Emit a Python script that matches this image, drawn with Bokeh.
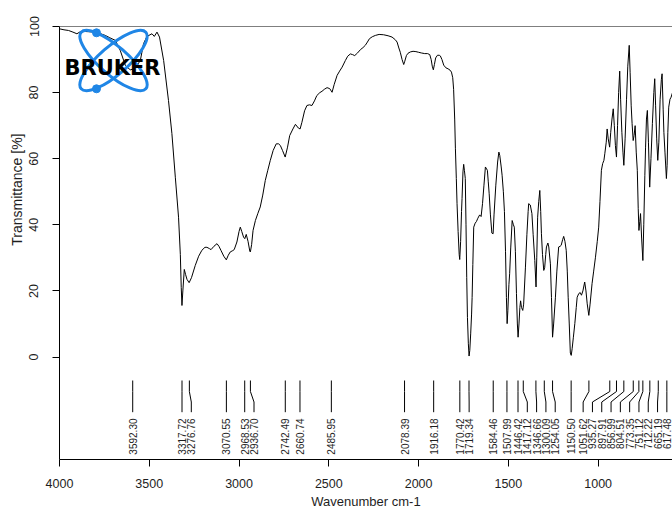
import numpy as np
from bokeh.plotting import figure
from bokeh.models import Range1d, FixedTicker, Span, Title
from bokeh.core.properties import value
from bokeh.embed import file_html
from bokeh.resources import INLINE

# ---------------- data ----------------
wavenumber = [
    4000, 3975, 3950, 3925, 3903, 3885, 3860, 3830, 3800, 3770, 3745, 3720,
    3689, 3662, 3633, 3606, 3584, 3565, 3550, 3532, 3513, 3485, 3472, 3457,
    3443, 3420, 3393, 3374, 3355, 3337, 3327, 3322, 3318, 3313, 3305, 3298,
    3290, 3278, 3265, 3244, 3225, 3207, 3190, 3179, 3165, 3156, 3140, 3123,
    3112, 3101, 3085, 3071, 3060, 3049, 3035, 3027, 3012, 3000, 2993, 2985,
    2975, 2968, 2960, 2950, 2940, 2937, 2930, 2922, 2909, 2895, 2882, 2868,
    2854, 2840, 2826, 2810, 2793, 2780, 2770, 2758, 2743, 2730, 2718, 2700,
    2686, 2670, 2660, 2650, 2635, 2622, 2608, 2594, 2580, 2567, 2550, 2538,
    2525, 2510, 2495, 2482, 2470, 2454, 2440, 2426, 2408, 2395, 2380, 2368,
    2356, 2340, 2324, 2310, 2297, 2285, 2274, 2258, 2241, 2220, 2195, 2170,
    2148, 2130, 2120, 2110, 2102, 2092, 2083, 2077, 2068, 2059, 2046, 2031,
    2015, 2000, 1985, 1966, 1950, 1938, 1930, 1924, 1918, 1912, 1905, 1895,
    1885, 1879, 1870, 1860, 1848, 1836, 1825, 1817, 1810, 1805, 1799, 1795,
    1790, 1786, 1780, 1774, 1771, 1766, 1761, 1758, 1753, 1749, 1745, 1740,
    1736, 1732, 1728, 1723, 1719, 1715, 1710, 1705, 1702, 1698, 1693, 1685,
    1678, 1670, 1660, 1652, 1644, 1636, 1628, 1617, 1612, 1607, 1600, 1592,
    1585, 1580, 1570, 1560, 1553, 1548, 1540, 1535, 1528, 1522, 1516, 1511,
    1507, 1503, 1497, 1493, 1487, 1479, 1472, 1467, 1461, 1455, 1450, 1446,
    1441, 1436, 1432, 1427, 1420, 1415, 1405, 1397, 1390, 1387, 1378, 1369,
    1362, 1353, 1346, 1342, 1337, 1331, 1325, 1320, 1316, 1310, 1303, 1298,
    1292, 1288, 1280, 1275, 1266, 1260, 1254, 1248, 1238, 1230, 1220, 1212,
    1206, 1198, 1192, 1185, 1178, 1172, 1167, 1161, 1155, 1150, 1145, 1138,
    1130, 1122, 1117, 1108, 1100, 1093, 1085, 1075, 1068, 1061, 1052, 1045,
    1034, 1025, 1015, 1005, 997, 990, 982, 975, 968, 963, 955, 950,
    944, 936, 930, 923, 916, 910, 904, 898, 892, 886, 880, 875,
    868, 862, 857, 850, 842, 835, 827, 822, 816, 811, 805, 800,
    794, 788, 782, 777, 773, 768, 764, 758, 751, 746, 740, 736,
    731, 726, 720, 713, 706, 698, 690, 685, 680, 674, 668, 662,
    655, 648, 644, 638, 634, 628, 620, 616, 612, 607, 600, 594, 586,
]
transmittance = [
    99.3, 99.0, 98.8, 98.3, 97.8, 98.4, 98.5, 98.4, 98.3, 97.8, 97.3, 96.6,
    95.8, 92.8, 88.2, 86.9, 87.2, 88.5, 89.7, 94.8, 97.0, 97.8, 97.0, 98.3,
    96.8, 89.7, 77.6, 67.6, 54.4, 42.3, 31.0, 21.0, 15.6, 20.0, 26.5, 25.0,
    23.5, 22.5, 24.0, 27.7, 30.5, 32.3, 33.2, 33.2, 32.8, 32.5, 33.5, 34.3,
    33.5, 32.3, 30.5, 29.4, 30.8, 31.8, 32.2, 32.5, 34.8, 38.0, 39.3, 38.0,
    36.3, 35.8, 37.1, 35.0, 32.0, 31.8, 34.0, 38.3, 41.3, 43.5, 45.4, 49.0,
    53.4, 56.5, 59.5, 62.5, 64.5, 64.5, 64.0, 62.5, 60.5, 63.5, 67.0, 69.0,
    70.4, 69.3, 69.0, 71.0, 74.5, 76.1, 76.3, 76.1, 77.5, 79.1, 80.0, 80.4,
    81.0, 81.5, 81.2, 80.1, 82.5, 85.2, 86.5, 87.7, 89.7, 91.0, 91.7, 91.5,
    91.2, 92.0, 93.0, 93.6, 94.3, 95.3, 96.3, 96.9, 97.3, 97.6, 97.5, 97.2,
    96.8, 96.0, 95.3, 93.5, 92.2, 90.0, 88.5, 89.5, 91.2, 91.9, 92.3, 92.5,
    92.4, 92.2, 92.0, 91.8, 91.8, 91.5, 90.0, 88.0, 86.9, 88.5, 90.5, 91.3,
    91.3, 91.1, 90.0, 88.3, 87.5, 87.2, 86.8, 86.2, 84.5, 81.0, 72.0, 63.0,
    54.0, 46.4, 38.0, 31.0, 29.5, 35.0, 44.0, 48.0, 56.0, 58.3, 56.5, 54.0,
    40.0, 24.0, 12.0, 4.0, 0.3, 2.0, 7.0, 13.0, 18.0, 28.0, 39.3, 40.5,
    41.0, 42.0, 43.0, 42.5, 46.4, 52.0, 57.5, 56.5, 53.0, 49.4, 43.0, 37.5,
    37.3, 43.0, 52.0, 59.0, 62.0, 61.0, 57.5, 55.0, 50.0, 44.0, 32.0, 18.0,
    10.1, 14.0, 22.0, 25.2, 33.0, 41.3, 40.0, 39.3, 32.0, 19.2, 10.0, 6.0,
    10.0, 15.0, 17.0, 15.0, 14.1, 16.0, 27.2, 37.0, 44.0, 46.4, 46.0, 43.4,
    37.0, 29.2, 21.2, 30.0, 42.3, 47.0, 50.4, 44.0, 37.3, 31.0, 26.2, 27.0,
    31.0, 33.3, 34.5, 33.3, 28.2, 18.0, 6.0, 10.0, 18.1, 26.0, 33.3, 33.5,
    33.8, 35.5, 36.5, 35.0, 32.3, 26.0, 18.1, 10.0, 1.2, 0.5, 2.5, 6.0,
    10.1, 15.0, 18.1, 19.2, 19.5, 18.7, 20.0, 22.7, 20.0, 16.1, 12.6, 16.0,
    22.2, 26.0, 30.2, 35.0, 39.3, 47.0, 56.5, 58.5, 59.5, 61.5, 65.0, 69.0,
    66.0, 63.5, 68.0, 72.0, 75.1, 70.0, 64.0, 60.5, 70.0, 80.0, 86.5, 78.0,
    68.0, 62.0, 58.0, 66.0, 78.0, 88.0, 94.3, 86.0, 76.0, 70.6, 65.5, 67.0,
    70.0, 62.0, 56.5, 45.0, 38.3, 41.0, 43.4, 36.0, 29.2, 40.0, 55.0, 63.5,
    72.0, 74.6, 65.0, 51.4, 60.0, 70.6, 80.0, 84.2, 76.0, 66.0, 59.5, 65.0,
    78.0, 84.0, 85.7, 75.0, 68.0, 62.0, 54.0, 58.0, 68.0, 75.6, 78.0, 78.6, 80.0,
]
peak_wavenumbers = [
    3592.30, 3317.72, 3276.76, 3070.55, 2968.53, 2936.70, 2742.49, 2660.74,
    2485.95, 2078.39, 1916.18, 1770.42, 1719.34, 1584.46, 1507.99, 1446.42,
    1417.12, 1346.66, 1300.09, 1254.05, 1150.50, 1051.62, 935.27, 897.91,
    856.99, 804.51, 773.35, 751.12, 712.22, 665.19, 617.48,
]
x_ticks = [4000, 3500, 3000, 2500, 2000, 1500, 1000]
y_ticks = [0, 20, 40, 60, 80, 100]
x_title = "Wavenumber cm-1"
y_title = "Transmittance [%]"
logo_text = "BRUKER"

# ---------------- layout ----------------
W, H = 672, 510
ML, MR, MT, MB = 59, 0, 26, 51
X0, X1 = 4000, 586
Y0, Y1 = -31, 100
frame_w = W - ML - MR
frame_h = H - MT - MB
sx = frame_w / (X0 - X1)
sy = frame_h / (Y1 - Y0)


def fx(page_x):
    return X0 - (page_x - ML) / sx


def fy(page_y):
    return Y1 - (page_y - MT) / sy


FONT = value("Liberation Sans")
TXT = "#1e1e1e"
BLUE = "#1f86e6"

p = figure(width=W, height=H, x_range=Range1d(X0, X1), y_range=Range1d(Y0, Y1),
           output_backend="svg", toolbar_location=None,
           min_border_left=ML, min_border_right=MR, min_border_top=MT,
           min_border_bottom=MB)
p.outline_line_color = None
p.grid.visible = False
p.background_fill_color = "white"
p.border_fill_color = "white"

for ax in (p.xaxis[0], p.yaxis[0]):
    ax.axis_line_color = "black"
    ax.axis_line_width = 1
    ax.major_tick_line_color = "black"
    ax.major_tick_out = 7
    ax.major_tick_in = 0
    ax.minor_tick_line_color = None
    ax.major_label_text_font = "Liberation Sans"
    ax.major_label_text_font_size = "12.5px"
    ax.major_label_text_color = TXT
p.xaxis.ticker = FixedTicker(ticks=x_ticks)
p.yaxis.ticker = FixedTicker(ticks=y_ticks)
p.xaxis.major_label_standoff = 12
p.yaxis.major_label_standoff = 14
p.yaxis.major_label_orientation = "vertical"

p.add_layout(Span(location=Y1, dimension="width", line_color="black", line_width=1))

# spectrum
p.line(wavenumber, transmittance, line_color="black", line_width=1)

# peak annotation layout (labels spread so they do not overlap)
gap = 9.3 / sx
pk = sorted(peak_wavenumbers, reverse=True)
lab = []
for v in pk:
    lab.append(min(v, lab[-1] - gap) if lab else v)
bound = min(pk)
for i in range(len(lab) - 1, -1, -1):
    limit = bound if i == len(lab) - 1 else lab[i + 1] + gap
    lab[i] = max(lab[i], limit)

ys_seg = [fy(380), fy(391), fy(401.5), fy(411.7)]
xs = [[a, a, b, b] for a, b in zip(pk, lab)]
p.multi_line(xs=xs, ys=[ys_seg] * len(pk), line_color="black", line_width=1)
p.text(x=lab, y=[fy(418)] * len(lab), text=[f"{v:.2f}" for v in pk],
       angle=np.pi / 2, text_align="right", text_baseline="middle",
       text_font=FONT, text_font_size="10px", text_color=TXT)

# logo
cx, cy = fx(113), fy(60)
p.ellipse(x=[cx, cx], y=[cy, cy], width=86, height=28, width_units="screen",
          height_units="screen", angle=[-0.72, 0.72], fill_color=None,
          line_color=BLUE, line_width=3)
p.scatter(x=[fx(96), fx(96)], y=[fy(32.3), fy(88.3)], size=8, color=BLUE)
p.text(x=[fx(112)], y=[fy(67)], text=[logo_text], text_align="center",
       text_baseline="alphabetic", text_font=value("DejaVu Sans"),
       text_font_style="bold", text_font_size="21px", text_color="black")

# axis titles
p.add_layout(Title(text=y_title, align="right", offset=107, standoff=4,
                   text_font="Liberation Sans", text_font_size="14px",
                   text_font_style="normal", text_color=TXT), "left")
p.add_layout(Title(text=x_title, align="center", offset=2, standoff=2,
                   text_font="Liberation Sans", text_font_size="13px",
                   text_font_style="normal", text_color=TXT), "below")

open("out.html", "w").write(file_html(p, INLINE))
